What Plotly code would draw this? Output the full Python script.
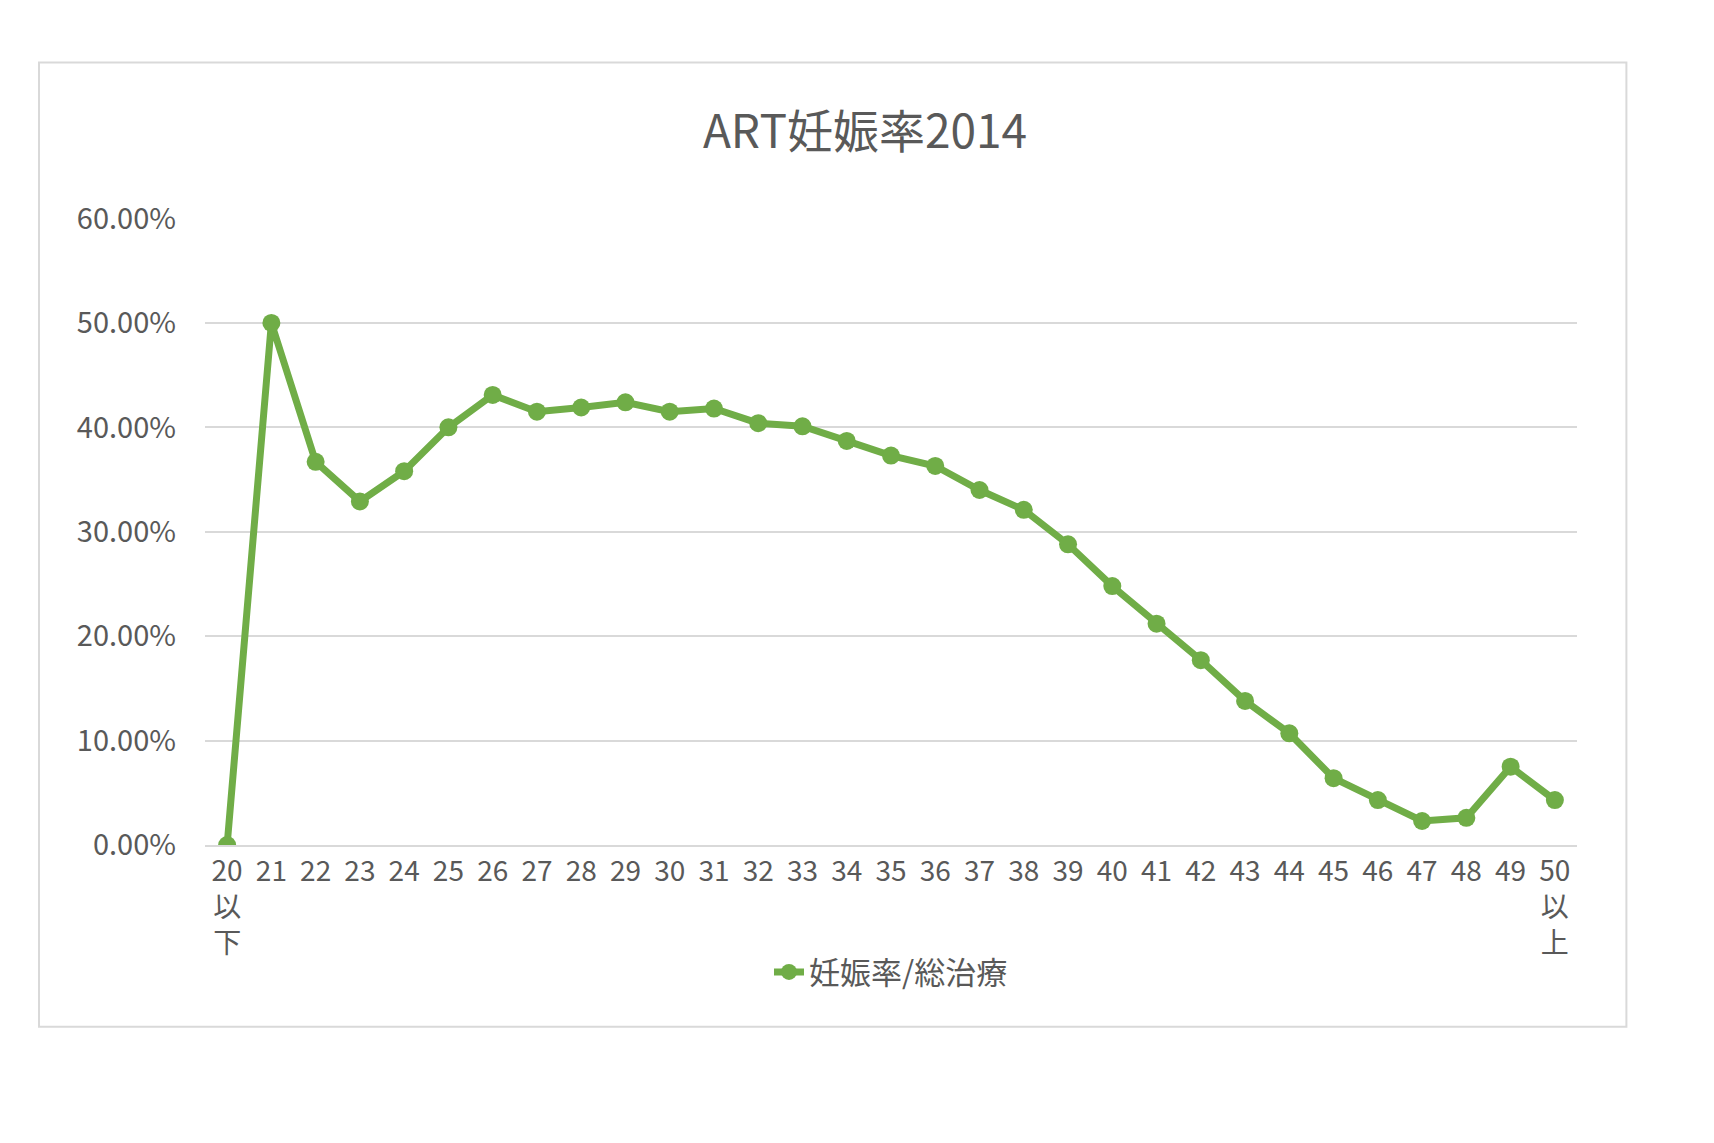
import plotly.graph_objects as go

categories = ["20<br>以<br>下"] + [str(i) for i in range(21, 50)] + ["50<br>以<br>上"]
rates = [0.0, 50.0, 36.7, 32.9, 35.8, 40.0, 43.1, 41.5, 41.9, 42.4, 41.5, 41.8, 40.4, 40.1,
         38.7, 37.3, 36.3, 34.0, 32.1, 28.8, 24.8, 21.2, 17.7, 13.8, 10.7, 6.4, 4.3, 2.3,
         2.6, 7.5, 4.3]
rates = [r / 100 for r in rates]

fig = go.Figure(go.Scatter(
    x=categories, y=rates, mode="lines+markers", name="妊娠率/総治療",
    line=dict(color="#70AD47", width=7), marker=dict(color="#70AD47", size=18),
))
font = "Noto Sans CJK JP, Open Sans, sans-serif"
fig.update_layout(
    width=1714, height=1143, paper_bgcolor="white", plot_bgcolor="white",
    margin=dict(l=197, r=145, t=210, b=306),
    title=dict(text="ART妊娠率2014", x=0.5, xanchor="center", y=0.892, yanchor="middle",
               font=dict(size=46, color="#595959", family=font)),
    font=dict(family=font, color="#595959", size=28),
    showlegend=True,
    legend=dict(orientation="h", x=0.5, xanchor="center", y=-0.203, yanchor="middle",
                font=dict(size=31, color="#595959")),
    xaxis=dict(type="category", range=[-0.5, 30.5], showgrid=False, showline=True,
               linecolor="#d9d9d9", linewidth=2, ticks="", tickfont=dict(size=28)),
    yaxis=dict(range=[0, 0.6005], tickvals=[0, 0.1, 0.2, 0.3, 0.4, 0.5, 0.6],
               tickformat=".2%", gridcolor="#d9d9d9",
               gridwidth=2, zeroline=False, ticks="", tickfont=dict(size=29),
               ticklabelstandoff=28),
    shapes=[dict(type="rect", xref="paper", yref="paper", x0=-0.121, x1=1.036,
                 y0=-0.290, y1=1.248, line=dict(color="#d9d9d9", width=2))],
)
fig.write_html("out.html")
